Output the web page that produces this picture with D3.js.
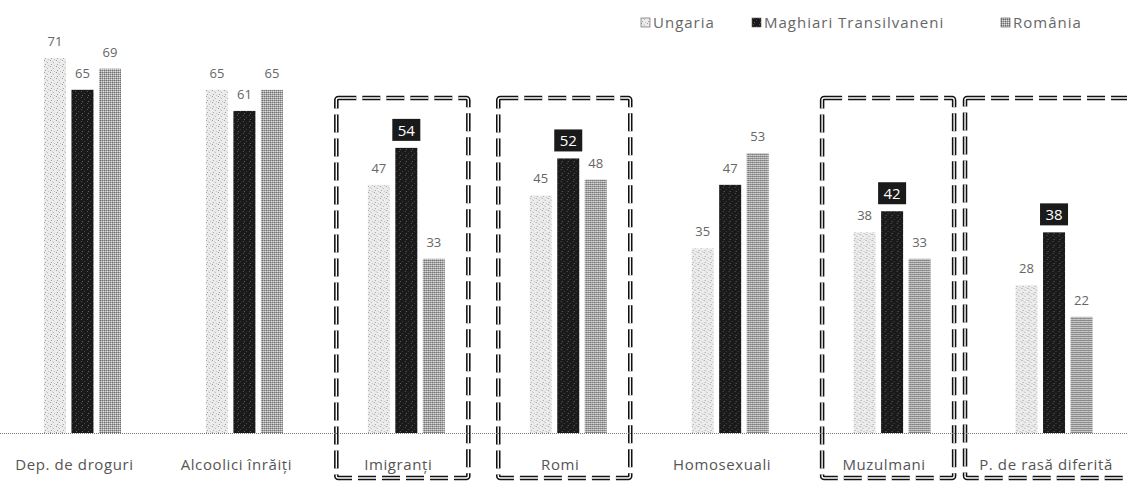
<!DOCTYPE html>
<html><head><meta charset="utf-8">
<script src="https://cdn.jsdelivr.net/npm/d3@7"></script>
<style>body{margin:0;background:#fff}svg{display:block}</style>
</head><body>
<svg id="c" width="1127" height="481"></svg>
<script>
const categories = ["Dep. de droguri","Alcoolici înrăiți","Imigranți","Romi","Homosexuali","Muzulmani","P. de rasă diferită"];
const seriesNames = ["Ungaria","Maghiari Transilvaneni","România"];
const ungaria  = [71,65,47,45,35,38,28];
const maghiari = [65,61,54,52,47,42,38];
const romania  = [69,65,33,48,53,33,22];
const highlighted = ["Imigranți","Romi","Muzulmani","P. de rasă diferită"];

const W=1127,H=481;
const FONT="'Open Sans', Lato, sans-serif";
const svg=d3.select("#c");
const defs=svg.append("defs");
function pat(id,bg,dots,size){
  const p=defs.append("pattern").attr("id",id).attr("patternUnits","userSpaceOnUse").attr("width",size).attr("height",size);
  p.append("rect").attr("width",size).attr("height",size).attr("fill",bg);
  dots.forEach(d=>p.append("rect").attr("x",d[0]).attr("y",d[1]).attr("width",1).attr("height",1).attr("fill",d[2]));
}
pat("pU","#ececec",[[0,0,"#9a9a9a"],[3,2,"#b5b5b5"],[1,4,"#a0a0a0"],[4,5,"#c0c0c0"],[2,1,"#d0d0d0"]],6);
pat("pM","#1a1a1a",[[1,1,"#555"],[4,3,"#444"],[2,5,"#666"]],6);
pat("pR","#a8a8a8",[[0,0,"#6a6a6a"],[2,0,"#6a6a6a"],[1,1,"#e0e0e0"],[3,1,"#e0e0e0"],[0,2,"#6a6a6a"],[2,2,"#808080"],[1,3,"#d8d8d8"],[3,3,"#e8e8e8"]],4);
const fills=["url(#pU)","url(#pM)","url(#pR)"];

const x=d3.scaleBand().domain(categories).range([1.5,1135]).padding(0);
const xs=d3.scaleBand().domain(seriesNames).range([0,77]).paddingInner(0.2).paddingOuter(0);
const y=d3.scaleLinear().domain([0,80]).range([433,433-80*5.28]);
const off=(x.bandwidth()-77)/2;

const data=categories.map((c,i)=>({cat:c,vals:[ungaria[i],maghiari[i],romania[i]]}));

highlighted.forEach((c,k)=>{
  const cx=x(c)+x.bandwidth()/2;
  const last=k===highlighted.length-1;
  const x0=last?cx-89:cx-70, x1=last?cx+90:cx+62;
  const g=svg.append("g");
  [["#111",4.5],["#fff",1.4]].forEach(([col,w])=>{
    g.append("rect").attr("x",x0).attr("y",98).attr("width",x1-x0).attr("height",478-98)
     .attr("rx",2).attr("fill","none").attr("stroke",col).attr("stroke-width",w)
     .attr("stroke-dasharray","18,6");
  });
});

svg.append("line").attr("x1",0).attr("x2",W).attr("y1",y(0)+0.5).attr("y2",y(0)+0.5)
  .attr("stroke","#777").attr("stroke-width",1).attr("stroke-dasharray","1,1");

const groups=svg.selectAll("g.grp").data(data).enter().append("g").attr("class","grp")
  .attr("transform",d=>`translate(${x(d.cat)+off},0)`);
groups.selectAll("rect").data(d=>d.vals.map((v,j)=>({v,j,cat:d.cat}))).enter().append("rect")
  .attr("x",d=>xs(seriesNames[d.j])).attr("width",xs.bandwidth())
  .attr("y",d=>y(d.v)).attr("height",d=>y(0)-y(d.v)).attr("fill",d=>fills[d.j]);

groups.selectAll("g.lab").data(d=>d.vals.map((v,j)=>({v,j,cat:d.cat}))).enter().append("g").attr("class","lab")
  .each(function(d){
    const g=d3.select(this);
    const cx=xs(seriesNames[d.j])+xs.bandwidth()/2;
    const hl=highlighted.includes(d.cat)&&d.j===1;
    if(hl){
      g.append("rect").attr("x",cx-14).attr("y",y(d.v)-29).attr("width",28).attr("height",22).attr("fill","#1a1a1a");
      g.append("text").attr("x",cx).attr("y",y(d.v)-12).attr("text-anchor","middle")
        .attr("font-family",FONT).attr("font-size",15).attr("fill","#fff").text(d.v);
    } else {
      g.append("text").attr("x",cx).attr("y",y(d.v)-12).attr("text-anchor","middle")
        .attr("font-family",FONT).attr("font-size",13).attr("fill","#666").text(d.v);
    }
  });

svg.selectAll("text.cat").data(categories).enter().append("text").attr("class","cat")
  .attr("x",c=>x(c)+x.bandwidth()/2-8).attr("y",470).attr("text-anchor","middle")
  .attr("font-family",FONT).attr("font-size",15).attr("letter-spacing",0.6).attr("fill","#555").text(c=>c);

const legX=[641,752,1001];
const lg=svg.selectAll("g.leg").data(seriesNames).enter().append("g").attr("class","leg")
  .attr("transform",(d,i)=>`translate(${legX[i]},23)`);
lg.append("rect").attr("x",0).attr("y",-5).attr("width",9).attr("height",9).attr("fill",(d,i)=>fills[i]).attr("stroke","#555").attr("stroke-width",0.6);
lg.append("text").attr("x",12).attr("y",5).attr("font-family",FONT).attr("font-size",15).attr("letter-spacing",1).attr("fill","#666").text(d=>d);
</script>
</body></html>
